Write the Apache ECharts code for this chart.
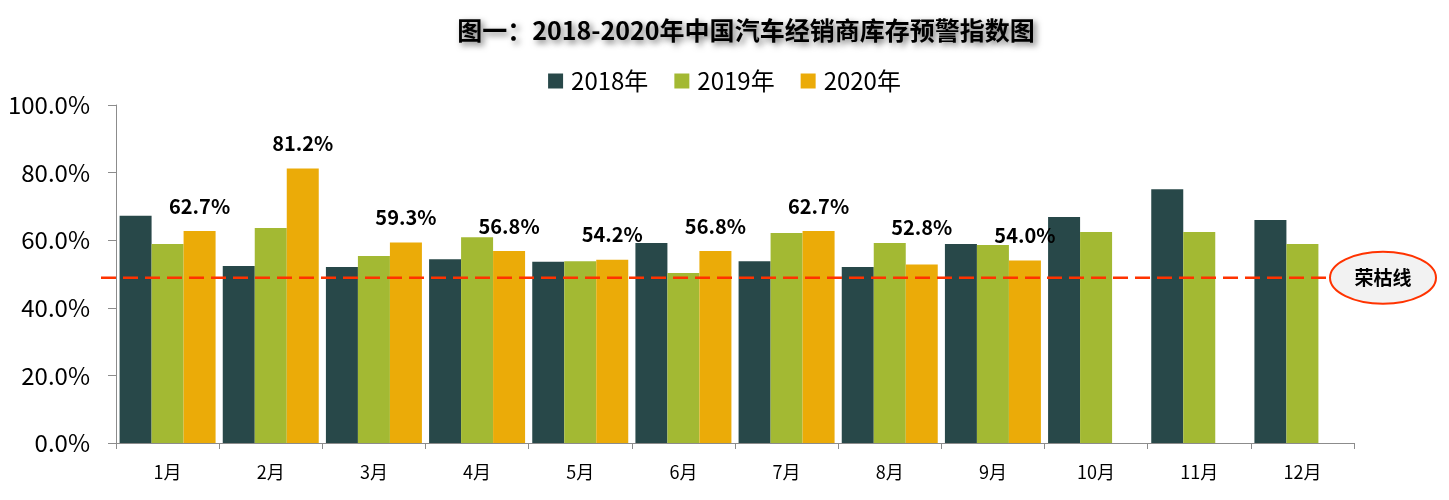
<!DOCTYPE html>
<html>
<head>
<meta charset="utf-8">
<script src="https://cdn.jsdelivr.net/npm/echarts@6/dist/echarts.min.js"></script>
<style>html,body{margin:0;padding:0;background:#fff}#c{width:1449px;height:500px}</style>
</head>
<body>
<div id="c"></div>
<script>
var categories = ['1月','2月','3月','4月','5月','6月','7月','8月','9月','10月','11月','12月'];
var seriesNames = ['2018年','2019年','2020年'];
var values2018 = [67.2, 52.4, 52.1, 54.4, 53.6, 59.2, 53.8, 52.1, 58.9, 66.9, 75.1, 66.0];
var values2019 = [58.9, 63.6, 55.3, 60.9, 53.8, 50.3, 62.1, 59.2, 58.6, 62.4, 62.4, 58.9];
var values2020 = [62.7, 81.2, 59.3, 56.8, 54.2, 56.8, 62.7, 52.8, 54.0, null, null, null];
var thresholdValue = 48.9;
var thresholdLabel = '荣枯线';
var titleText = '图一：2018-2020年中国汽车经销商库存预警指数图';

var FONT = '"Noto Sans CJK SC", "Noto Sans", sans-serif';
var colors = ['#284849', '#A3B933', '#EBAB08'];

var chart = echarts.init(document.getElementById('c'), null, {renderer: 'canvas'});

var data2020 = values2020.map(function (v, i) {
  var item = {value: v};
  if (i === 7) item.label = {distance: 27};
  return item;
});

var option = {
  animation: false,
  backgroundColor: '#fff',
  title: {
    text: titleText,
    left: 741,
    top: 13,
    textAlign: 'center',
    textStyle: {
      fontFamily: FONT, fontSize: 25, fontWeight: 'bold', color: '#000',
      textShadowColor: 'rgba(0,0,0,0.55)', textShadowBlur: 6,
      textShadowOffsetX: 3, textShadowOffsetY: 3
    }
  },
  legend: {
    data: seriesNames,
    top: 64,
    left: 'center',
    icon: 'rect',
    itemWidth: 15,
    itemHeight: 15,
    itemGap: 26,
    textStyle: {fontFamily: FONT, fontSize: 24, color: '#000', padding: [0, 0, 0, 3]}
  },
  grid: {left: 116, right: 95, top: 105, bottom: 57, containLabel: false},
  xAxis: {
    type: 'category',
    data: categories,
    axisLine: {lineStyle: {color: '#8c8c8c', width: 1}},
    axisTick: {show: true, length: 6, lineStyle: {color: '#8c8c8c'}},
    axisLabel: {fontFamily: FONT, fontSize: 18, color: '#000', margin: 20}
  },
  yAxis: {
    type: 'value',
    min: 0, max: 100, interval: 20,
    splitLine: {show: false},
    axisLine: {show: true, lineStyle: {color: '#8c8c8c', width: 1}},
    axisTick: {show: true, length: 8, lineStyle: {color: '#8c8c8c'}},
    axisLabel: {
      fontFamily: FONT, fontSize: 24, color: '#000', margin: 26,
      formatter: function (v) { return v.toFixed(1) + '%'; }
    }
  },
  series: [
    {name: seriesNames[0], type: 'bar', data: values2018, barWidth: 32, barGap: '0%',
     itemStyle: {color: colors[0]}},
    {name: seriesNames[1], type: 'bar', data: values2019, barWidth: 32, barGap: '0%',
     itemStyle: {color: colors[1]}},
    {name: seriesNames[2], type: 'bar', data: data2020, barWidth: 32, barGap: '0%',
     itemStyle: {color: colors[2]},
     label: {
       show: true, position: 'top', distance: 15,
       fontFamily: FONT, fontSize: 20, fontWeight: 'bold', color: '#000',
       formatter: function (p) { return p.value == null ? '' : p.value.toFixed(1) + '%'; }
     }}
  ]
};
chart.setOption(option);

var yPix = chart.convertToPixel({yAxisIndex: 0}, thresholdValue);
chart.setOption({
  graphic: [
    {type: 'line', z: 100, silent: true,
     shape: {x1: 101, y1: yPix, x2: 1330, y2: yPix},
     style: {stroke: '#FF3300', lineWidth: 2.5, lineDash: [15, 7]}},
    {type: 'ellipse', z: 101, silent: true,
     shape: {cx: 1383, cy: yPix, rx: 53, ry: 26},
     style: {fill: '#F2F2F2', stroke: '#FF3300', lineWidth: 2}},
    {type: 'text', z: 102, silent: true,
     x: 1383, y: yPix,
     style: {text: thresholdLabel, fontFamily: FONT, fontSize: 19, fontWeight: 'bold',
             fill: '#000', align: 'center', verticalAlign: 'middle'}}
  ]
});
</script>
</body>
</html>
